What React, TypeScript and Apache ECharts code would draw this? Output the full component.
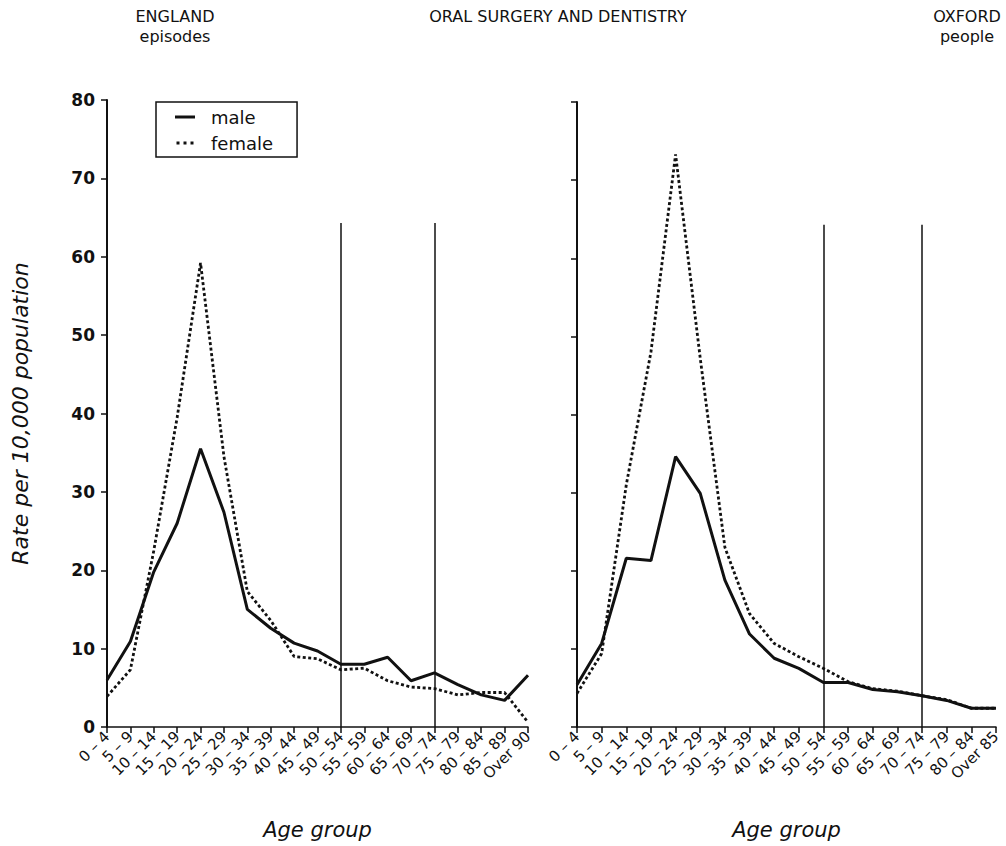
import React, { useEffect, useRef } from "react";
import * as echarts from "echarts";

// Age bands for each source
const englandAges = [
  "0 – 4", "5 – 9", "10 – 14", "15 – 19", "20 – 24", "25 – 29", "30 – 34",
  "35 – 39", "40 – 44", "45 – 49", "50 – 54", "55 – 59", "60 – 64", "65 – 69",
  "70 – 74", "75 – 79", "80 – 84", "85 – 89", "Over 90",
];
const oxfordAges = [
  "0 – 4", "5 – 9", "10 – 14", "15 – 19", "20 – 24", "25 – 29", "30 – 34",
  "35 – 39", "40 – 44", "45 – 49", "50 – 54", "55 – 59", "60 – 64", "65 – 69",
  "70 – 74", "75 – 79", "80 – 84", "Over 85",
];

// Rates per 10,000 population
const englandMale = [6.0, 10.9, 19.8, 26.0, 35.5, 27.4, 15.0, 12.6, 10.7, 9.7, 8.0, 8.0, 8.9, 5.9, 6.9, 5.4, 4.1, 3.4, 6.6];
const englandFemale = [3.9, 7.3, 22.5, 39.5, 59.2, 34.5, 17.3, 13.6, 9.0, 8.7, 7.3, 7.5, 5.9, 5.1, 4.9, 4.1, 4.4, 4.4, 0.6];
const oxfordMale = [5.4, 10.7, 21.6, 21.3, 34.6, 29.9, 18.8, 11.9, 8.8, 7.5, 5.7, 5.7, 4.8, 4.5, 4.0, 3.4, 2.4, 2.4];
const oxfordFemale = [4.3, 9.4, 31.0, 48.0, 73.3, 47.2, 23.0, 14.5, 10.7, 9.0, 7.5, 5.8, 4.9, 4.6, 4.0, 3.5, 2.4, 2.4];

// Reference bands marked with vertical rules, and the rule height
const markerBands = ["50 – 54", "70 – 74"];
const markerTop = 64.3;

const FONT = "'DejaVu Sans', 'Open Sans', sans-serif";
const INK = "#111";

// Legend glyphs: a solid bar and three dots
const SOLID_ICON = "path://M0,0h20v3h-20z";
const DOTTED_ICON = "path://M0,0h3v3h-3z M7,0h3v3h-3z M14,0h3v3h-3z";

function markerLines() {
  return {
    silent: true,
    symbol: "none",
    label: { show: false },
    lineStyle: { color: INK, width: 1.5, type: "solid" },
    data: markerBands.map((b) => [{ coord: [b, 0] }, { coord: [b, markerTop] }]),
  };
}

export default function App() {
  const ref = useRef<HTMLDivElement>(null);

  useEffect(() => {
    if (!ref.current) return;
    const chart = echarts.init(ref.current, undefined, { renderer: "svg" });

    const xAxisCommon = {
      type: "category",
      boundaryGap: false,
      axisLine: { lineStyle: { color: INK, width: 1.5 } },
      axisTick: { show: true, length: 6, lineStyle: { color: INK, width: 1.5 } },
      axisLabel: {
        interval: 0,
        rotate: 45,
        color: INK,
        fontFamily: FONT,
        fontSize: 15,
        margin: 7,
      },
      name: "Age group",
      nameLocation: "middle",
      nameGap: 92,
      nameTextStyle: { fontFamily: FONT, fontSize: 21, fontStyle: "italic", color: INK },
    };

    const yAxisCommon = {
      type: "value",
      min: 0,
      max: 80,
      interval: 10,
      splitLine: { show: false },
      axisLine: { show: true, lineStyle: { color: INK, width: 2 } },
      axisTick: { show: true, length: 6, lineStyle: { color: INK, width: 1.5 } },
    };

    const solid = { color: INK, width: 3, type: "solid" };
    const dotted = { color: INK, width: 2.8, type: [3, 2.5] };

    const titleStyle = { fontFamily: FONT, fontSize: 16, fill: INK, align: "center", verticalAlign: "top", lineHeight: 20 };

    chart.setOption({
      animation: false,
      backgroundColor: "#fff",
      textStyle: { fontFamily: FONT },
      grid: [
        { left: 107, right: 478, top: 100, bottom: 119 },
        { left: 577, right: 10, top: 102, bottom: 119 },
      ],
      xAxis: [
        { ...xAxisCommon, gridIndex: 0, data: englandAges },
        { ...xAxisCommon, gridIndex: 1, data: oxfordAges },
      ],
      yAxis: [
        {
          ...yAxisCommon,
          gridIndex: 0,
          axisLabel: { color: INK, fontFamily: FONT, fontSize: 17, fontWeight: "bold", margin: 12 },
          name: "Rate per 10,000 population",
          nameLocation: "middle",
          nameGap: 76,
          nameTextStyle: { fontFamily: FONT, fontSize: 22, fontStyle: "italic", color: INK },
        },
        { ...yAxisCommon, gridIndex: 1, axisLabel: { show: false } },
      ],
      legend: {
        orient: "vertical",
        left: 156,
        top: 102,
        data: [
          { name: "male", icon: SOLID_ICON },
          { name: "female", icon: DOTTED_ICON },
        ],
        borderColor: INK,
        borderWidth: 1.5,
        padding: [5, 24, 4, 19],
        itemGap: 6,
        itemWidth: 20,
        itemHeight: 3,
        textStyle: { fontFamily: FONT, fontSize: 18, lineHeight: 20, color: INK, padding: [0, 0, 0, 11] },
      },
      series: [
        {
          name: "male",
          type: "line",
          xAxisIndex: 0,
          yAxisIndex: 0,
          data: englandMale,
          symbol: "none",
          lineStyle: solid,
          itemStyle: { color: INK },
          markLine: markerLines(),
        },
        {
          name: "female",
          type: "line",
          xAxisIndex: 0,
          yAxisIndex: 0,
          data: englandFemale,
          symbol: "none",
          lineStyle: dotted,
          itemStyle: { color: INK },
        },
        {
          name: "male",
          type: "line",
          xAxisIndex: 1,
          yAxisIndex: 1,
          data: oxfordMale,
          symbol: "none",
          lineStyle: solid,
          itemStyle: { color: INK },
          markLine: markerLines(),
        },
        {
          name: "female",
          type: "line",
          xAxisIndex: 1,
          yAxisIndex: 1,
          data: oxfordFemale,
          symbol: "none",
          lineStyle: dotted,
          itemStyle: { color: INK },
        },
      ],
      graphic: [
        { type: "text", x: 175, y: 6, style: { ...titleStyle, text: "ENGLAND\nepisodes" } },
        { type: "text", x: 558, y: 6, style: { ...titleStyle, text: "ORAL SURGERY AND DENTISTRY" } },
        { type: "text", x: 967, y: 6, style: { ...titleStyle, text: "OXFORD\npeople" } },
      ],
    });

    return () => chart.dispose();
  }, []);

  return (
    <div
      ref={ref}
      style={{ position: "fixed", left: 0, top: 0, width: 1006, height: 846, background: "#fff" }}
    />
  );
}
